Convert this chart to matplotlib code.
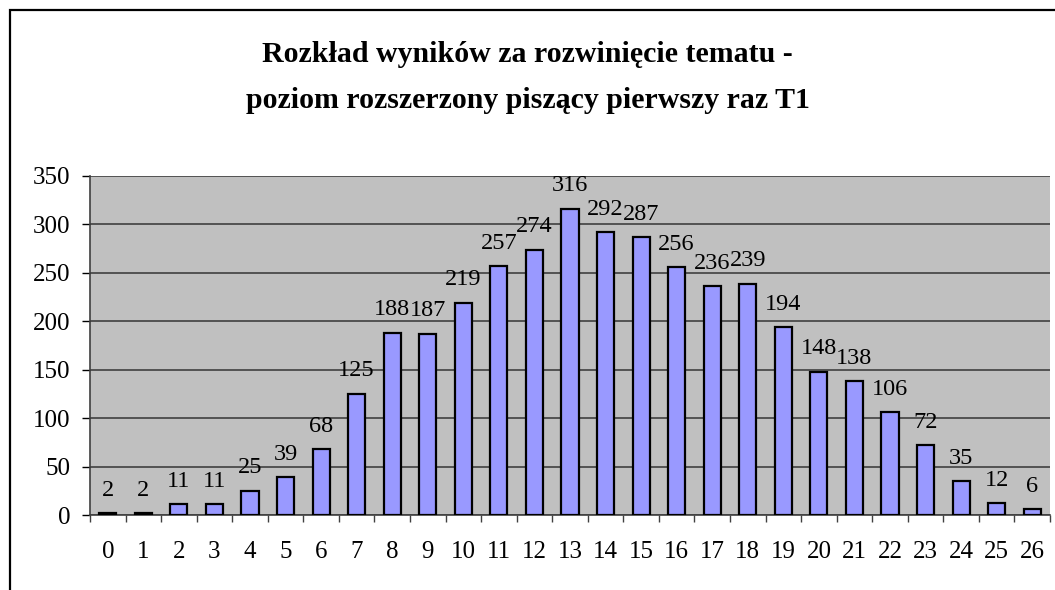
import matplotlib
matplotlib.use("Agg")
from matplotlib import pyplot as plt
from matplotlib.patches import Rectangle
import numpy as np

## data
points = list(range(27))
counts = [2, 2, 11, 11, 25, 39, 68, 125, 188, 187, 219, 257, 274, 316,
          292, 287, 256, 236, 239, 194, 148, 138, 106, 72, 35, 12, 6]
y_ticks = [0, 50, 100, 150, 200, 250, 300, 350]
title_lines = ["Rozkład wyników za rozwinięcie tematu -",
               "poziom rozszerzony piszący pierwszy raz T1"]

plt.rcParams['font.family'] = ['Liberation Serif', 'DejaVu Serif']

fig = plt.figure(figsize=(10.55, 5.9), dpi=100)
# outer chart frame (runs off right/bottom edge as in the original)
fig.patches.append(Rectangle((10 / 1055, -0.05), 1.1, 1 - 10 / 590 + 0.05,
                             transform=fig.transFigure, fill=False,
                             edgecolor='black', linewidth=1.6))

ax = fig.add_axes([90 / 1055, 1 - 515 / 590, 960 / 1055, (515 - 176) / 590])
ax.set_facecolor('#C0C0C0')

x = np.arange(len(points))
ax.bar(x, counts, width=0.48, color='#9999FF', edgecolor='black', linewidth=1.6, zorder=3)

for xi, v in zip(x, counts):
    ax.annotate(str(v), (xi, v), xytext=(0, 9), textcoords='offset points',
                ha='center', va='bottom', fontsize=17.5, zorder=4)

ax.set_xlim(-0.5, len(points) - 0.5)
ax.set_ylim(0, 350)
ax.set_yticks(y_ticks)
ax.set_xticks(x)
ax.set_xticklabels([str(p) for p in points])
ax.set_xticks(np.arange(-0.5, len(points), 1), minor=True)

ax.yaxis.grid(True, color='#404040', linewidth=1.2, zorder=1)
ax.tick_params(axis='y', direction='out', length=6, width=1, pad=8, labelsize=18)
ax.tick_params(axis='x', which='major', length=0, pad=19, labelsize=18)
ax.tick_params(axis='x', which='minor', direction='out', length=5, width=1, color='#404040')

for side in ['top', 'right']:
    ax.spines[side].set_visible(False)
ax.spines['left'].set_color('#404040')
ax.spines['bottom'].set_color('#404040')
ax.spines['left'].set_linewidth(1.2)
ax.spines['bottom'].set_linewidth(1.2)

fig.text(0.5, 1 - 54 / 590, title_lines[0], ha='center', va='center', fontsize=21.5,
         fontweight='bold')
fig.text(0.5, 1 - 101 / 590, title_lines[1], ha='center', va='center', fontsize=21.5,
         fontweight='bold')

fig.savefig('out.png', dpi=100)
